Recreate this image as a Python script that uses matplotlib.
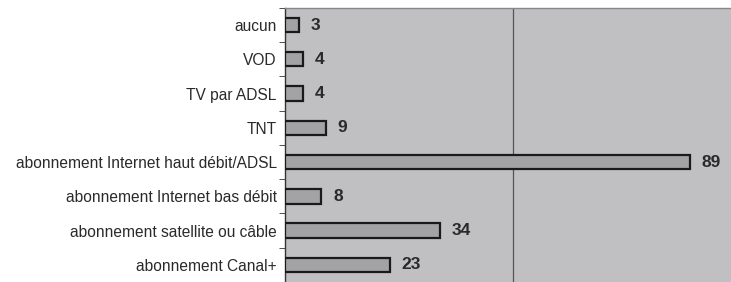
import numpy as np
import matplotlib.pyplot as plt

plt.rcParams['font.family'] = ['Liberation Sans', 'DejaVu Sans']

# data (top to bottom)
categories = ['aucun', 'VOD', 'TV par ADSL', 'TNT',
              'abonnement Internet haut débit/ADSL',
              'abonnement Internet bas débit',
              'abonnement satellite ou câble', 'abonnement Canal+']
values = [3, 4, 4, 9, 89, 8, 34, 23]

bg = '#c0c0c3'
bar_color = '#a3a3a6'

fig = plt.figure(figsize=(7.31, 2.82), dpi=100)
ax = fig.add_axes([0.39, 0.0, 0.61, 0.972])
ax.set_facecolor(bg)

y = np.arange(len(categories))
ax.barh(y, values, height=0.42, color=bar_color, edgecolor='#1a1a1a',
        linewidth=1.6, zorder=3)
for yi, v in zip(y, values):
    ax.text(v + 2.6, yi, str(v), va='center', ha='left', fontsize=12.5,
            fontweight='bold', color='#2a2a2a', zorder=4)

ax.set_xlim(0, 98)
ax.set_ylim(len(categories) - 0.5, -0.5)
ax.axvline(50, color='#555555', lw=0.9, zorder=1)

ax.set_yticks(y)
ax.set_yticklabels(categories, fontsize=11.2, color='#2a2a2a')
ax.tick_params(axis='y', which='major', length=0, pad=6)
ax.set_yticks(np.arange(len(categories) + 1) - 0.5, minor=True)
ax.tick_params(axis='y', which='minor', length=4, color='#333333')
ax.set_xticks([])

for side in ['right', 'bottom']:
    ax.spines[side].set_visible(False)
ax.spines['left'].set_color('#333333')
ax.spines['left'].set_linewidth(1.0)
ax.spines['top'].set_color('#888888')
ax.spines['top'].set_linewidth(1.0)

plt.savefig('out.png', dpi=100)
